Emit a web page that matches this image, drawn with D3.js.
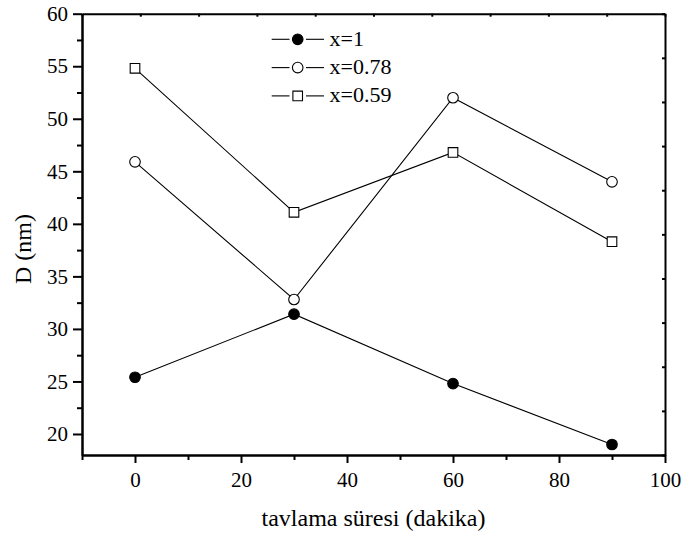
<!DOCTYPE html>
<html>
<head>
<meta charset="utf-8">
<script src="https://cdn.jsdelivr.net/npm/d3@7"></script>
<style>
  html, body { margin: 0; padding: 0; background: #fff; }
  svg { display: block; }
  text { font-family: "Liberation Serif", "Times New Roman", serif; fill: #000; }
</style>
</head>
<body>
<svg id="chart" width="683" height="535"></svg>
<script>
// Annealing time (minutes) and crystallite size D (nm) per composition
const times = [0, 30, 60, 90];
const seriesNames = ["x=1", "x=0.78", "x=0.59"];
const sizeX100 = [25.4, 31.4, 24.8, 19.0];
const sizeX078 = [45.9, 32.8, 52.0, 44.0];
const sizeX059 = [54.8, 41.1, 46.8, 38.3];
const xTicks = [0, 20, 40, 60, 80, 100];
const yTicks = [20, 25, 30, 35, 40, 45, 50, 55, 60];

const series = [
  { name: seriesNames[0], values: sizeX100, symbol: "circle", fill: "#000" },
  { name: seriesNames[1], values: sizeX078, symbol: "circle", fill: "#fff" },
  { name: seriesNames[2], values: sizeX059, symbol: "square", fill: "#fff" }
];

const W = 683, H = 535;
const margin = { top: 13.7, right: 18, bottom: 80, left: 82 };
const iw = W - margin.left - margin.right;
const ih = H - margin.top - margin.bottom;
const serif = "'Liberation Serif', 'Times New Roman', serif";

const svg = d3.select("#chart");
const g = svg.append("g").attr("transform", `translate(${margin.left},${margin.top})`);

const x = d3.scaleLinear().domain([-10, 100]).range([0, iw]);
const y = d3.scaleLinear().domain([18, 60]).range([ih, 0]);

// Bottom axis: labelled majors, minor ticks between
const xMinor = d3.range(-10, 101, 20);
const bottom = g.append("g").attr("transform", `translate(0,${ih})`);
bottom.call(d3.axisBottom(x).tickValues(xTicks).tickSize(8).tickSizeOuter(0)
  .tickPadding(9).tickFormat(d3.format("d")));
bottom.append("g").call(d3.axisBottom(x).tickValues(xMinor).tickSize(5).tickSizeOuter(0).tickFormat(""));

// Left axis
const yMinor = d3.range(22.5, 60, 5);
const left = g.append("g");
left.call(d3.axisLeft(y).tickValues(yTicks).tickSize(9).tickSizeOuter(0)
  .tickPadding(5).tickFormat(d3.format("d")));
left.append("g").call(d3.axisLeft(y).tickValues(yMinor).tickSize(5).tickSizeOuter(0).tickFormat(""));

// Top and right frame with small inward ticks
const xFrame = d3.range(0, 11).map(i => -10 + i * 11);
const yFrame = d3.range(0, 11).map(i => 18 + i * 4.2);
g.append("g").call(d3.axisBottom(x).tickValues(xFrame).tickSize(3).tickSizeOuter(0).tickFormat(""));
g.append("g").attr("transform", `translate(${iw},0)`)
  .call(d3.axisLeft(y).tickValues(yFrame).tickSize(3).tickSizeOuter(0).tickFormat(""));

g.selectAll(".domain").attr("stroke", "#000").attr("stroke-width", 2);
g.selectAll(".tick line").attr("stroke", "#000").attr("stroke-width", 2);
g.selectAll(".tick text")
  .style("font-family", serif).style("font-size", "21px").style("fill", "#000");

// Axis titles
svg.append("text")
  .attr("x", margin.left + iw / 2).attr("y", 526)
  .attr("text-anchor", "middle").style("font-size", "24px")
  .text("tavlama süresi (dakika)");
svg.append("text")
  .attr("transform", "translate(31,249) rotate(-90)")
  .attr("text-anchor", "middle").style("font-size", "24px")
  .text("D (nm)");

// Series lines
const line = d3.line().x((d, i) => x(times[i])).y(d => y(d));
const symbolD = s => {
  const size = s.symbol === "circle" ? Math.PI * 5.3 * 5.3 : 9.6 * 9.6;
  const type = s.symbol === "circle" ? d3.symbolCircle : d3.symbolSquare;
  return d3.symbol().type(type).size(size)();
};

series.forEach(s => {
  g.append("path").datum(s.values)
    .attr("fill", "none").attr("stroke", "#000").attr("stroke-width", 1.1)
    .attr("d", line);
});
series.forEach(s => {
  g.append("g").selectAll("path").data(s.values).join("path")
    .attr("d", symbolD(s))
    .attr("transform", (d, i) => `translate(${x(times[i])},${y(d)})`)
    .attr("fill", s.fill).attr("stroke", "#000").attr("stroke-width", 1.1);
});

// Legend
const legend = svg.append("g");
series.forEach((s, i) => {
  const cy = 39.3 + i * 28.3;
  const row = legend.append("g");
  row.append("line").attr("x1", 271.7).attr("x2", 289.5).attr("y1", cy).attr("y2", cy)
    .attr("stroke", "#000").attr("stroke-width", 1.1);
  row.append("line").attr("x1", 306).attr("x2", 324).attr("y1", cy).attr("y2", cy)
    .attr("stroke", "#000").attr("stroke-width", 1.1);
  row.append("path").attr("d", symbolD(s)).attr("transform", `translate(297.7,${cy})`)
    .attr("fill", s.fill).attr("stroke", "#000").attr("stroke-width", 1.1);
  row.append("text").attr("x", 329.5).attr("y", cy + 6.5)
    .style("font-size", "22px").text(s.name);
});
</script>
</body>
</html>
